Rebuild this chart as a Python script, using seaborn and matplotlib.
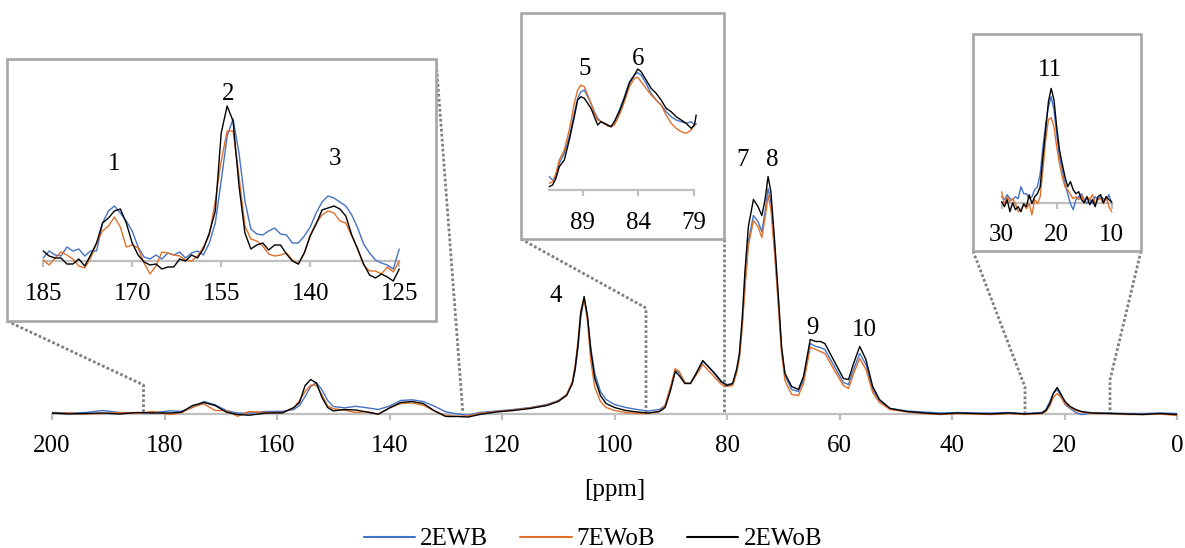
import matplotlib
matplotlib.use('Agg')
import matplotlib.pyplot as plt
import pandas as pd
import seaborn as sns
from matplotlib.lines import Line2D
from matplotlib.patches import Rectangle

# ---------------- data ----------------
SERIES = ['2EWB', '7EWoB', '2EWoB']
COLORS = {'2EWB': '#4472C4', '7EWoB': '#E0702A', '2EWoB': '#000000'}

# main spectrum (intensity in arbitrary units)
main_ppm = [200, 197, 194, 191, 188, 185, 182, 179, 177, 175, 173, 171, 169, 167, 165, 162, 159,
            157, 156, 155, 154, 153, 152, 151, 150, 148, 146, 144, 142, 140, 138, 136, 134, 132,
            130, 128, 126, 124, 121, 118, 115, 112, 110, 108.5, 107.5, 107, 106.5, 106, 105.4,
            104.8, 104.2, 103.5, 102.5, 101.5, 100, 98, 96, 94, 92, 91, 90, 89.2, 88.5, 87.5,
            86.5, 85.5, 84.3, 83, 82, 81, 80, 79, 78.3, 77.8, 77.3, 76.8, 76.2, 75.3, 74.5, 73.8,
            73.2, 72.7, 72.2, 71.5, 70.9, 70.3, 69.7, 68.5, 67.3, 66.4, 65.2, 64.2, 63.4, 62.6,
            61.1, 59.3, 58.4, 57.5, 56.4, 55.3, 54.1, 52.9, 51, 48, 45, 42, 39, 36, 33, 30, 27,
            24, 23.3, 22.6, 22, 21.3, 20.6, 19.9, 19, 18, 17, 15, 12, 9, 6, 3, 0]
main_2ewob = [0.5, -0.5, 0, 0.5, -0.5, 1, 0.5, 0.5, 1.3, 8, 11, 8, 1.3, -1, -1.7, 0.4, 0.7,
              6, 11, 28, 34, 30.5, 16, 6, 2.6, 4, 3.5, 1.5, -0.7, 5.5, 11, 12, 10, 2.6,
              -3, -3, -3.5, -1, 1.5, 3, 5, 8, 12, 18, 30, 45, 68, 100, 117,
              97, 62, 35, 18, 10, 6, 3, 1.5, 0.5, 2, 6, 24, 42, 38, 30,
              30, 40, 53, 45, 39, 32, 28, 30, 44, 60, 95, 143, 187, 214, 207, 198,
              215, 237, 222, 170, 120, 67, 40, 27, 24, 37, 74, 72, 72, 70,
              54, 35, 34, 50, 67, 54, 27, 14, 5, 2, 0.5, -0.5, 0.5, 0, -0.5, 0.5, -0.5,
              0.5, 3, 10, 20, 26, 19, 12, 7, 4, 2, 0.5, 0, -0.5, -1, 0, -1]
main_2ewb = [1, 0.5, 1, 3, 1, 0.7, 1, 2.6, 2.2, 6, 12, 8.7, 3, 0.4, 0.4, 2, 2.2,
             4, 8, 17, 27, 31, 23.5, 13, 7, 5.7, 7.2, 5.7, 4, 7.4, 13, 13.7, 12, 7.2,
             1.7, -0.4, -1.7, 1, 2.5, 4, 6, 9, 13, 19, 30, 43, 65, 96, 115,
             97, 65, 40, 22, 14, 9, 6, 4, 2.5, 4, 8, 26, 43, 41, 31,
             30, 40, 52, 45, 38, 31, 29, 30, 42, 56, 88, 130, 172, 198, 192, 182,
             203, 225, 212, 163, 115, 64, 38, 24, 22, 34, 70, 67, 66, 64,
             49, 31, 29, 44, 60, 49, 24, 13, 5, 2.5, 1.5, 0.5, 1, 0.5, 0.5, 1, 0,
             1, 4, 12, 20, 24, 17, 9, 5, 1, -1, 0.5, 0.5, 0, 0, 0.5, 0]
main_7ewob = [0, 0.5, -0.5, 0, 1, 0.2, 2, -1, 0.7, 6.5, 9.6, 3, 2.8, -2.8, 2, 1, 1,
              5.7, 13, 22, 28.3, 28.3, 18.5, 7.6, 4.8, 3.3, 1, 1.7, -0.7, 5.7, 10, 10.5, 8.3, 2.6,
              -2.2, -2.8, -2.4, 0, 2, 3.5, 5.5, 8.5, 12.5, 19, 32, 48, 72, 103, 115,
              92, 52, 26, 12, 6, 3, 1, 0, 0, 2, 8, 28, 45, 42, 31,
              30, 38, 49, 41, 35, 29, 27, 28, 40, 55, 86, 126, 168, 193, 187, 176,
              197, 218, 205, 157, 110, 60, 33, 19, 18, 30, 66, 64, 62, 60,
              45, 28, 25, 40, 55, 44, 21, 11, 4, 1.5, 0, -1, 0, -0.5, -1, 0, -1,
              0, 2, 8, 16, 20, 16, 10, 6, 3, 1.5, 0, 0, -1, -1, -0.5, -2]

# inset 1 (185-125 ppm)
inset1_ppm = list(range(185, 124, -1))
inset1_2ewob = [10, 5, 3, 3, -3, -3, 2, -5, 6, 18,
                38, 43, 50, 52, 38, 18, 6, -1, -4, -3,
                -8, -6, -6, 2, 0, 6, 3, 12, 28, 50,
                128, 155, 140, 75, 28, 12, 16, 18, 11, 16,
                16, 7, 0, -3, 8, 25, 37, 51, 53, 55,
                52, 45, 26, 12, -3, -14, -17, -13, -16, -20,
                -8]
inset1_2ewb = [3, 10, 6, 5, 14, 10, 12, 5, 10, 10,
               38, 50, 55, 48, 40, 30, 14, 4, 2, 6,
               2, 8, 6, 9, 3, 8, 10, 6, 18, 38,
               80, 125, 142, 108, 60, 32, 27, 26, 30, 33,
               27, 26, 18, 18, 25, 34, 48, 59, 65, 63,
               59, 55, 46, 33, 17, 8, 1, -2, -4, -8,
               12]
inset1_7ewob = [1, -4, 3, 9, 6, 2, -5, -7, 3, 18,
                30, 35, 44, 34, 14, 16, 13, -2, -13, -5,
                9, 8, 6, 5, 1, 0, 5, 14, 26, 60,
                100, 130, 130, 85, 35, 22, 20, 15, 7, 5,
                6, 8, 1, -3, 8, 26, 38, 46, 50, 48,
                40, 38, 25, 12, -4, -10, -10, -13, -6, -11,
                0]

# inset 2 (92-79 ppm)
inset2_ppm = [92.0, 91.7, 91.4, 91.1, 90.65, 90.2, 89.75, 89.45, 89.15, 88.85, 88.55, 88.25,
              87.95, 87.65, 87.35, 87.05, 86.75, 86.45, 86.15, 85.7, 85.25, 84.8, 84.35, 84.05,
              83.75, 83.3, 82.85, 82.4, 81.95, 81.5, 81.05, 80.6, 80.15, 79.7, 79.25, 78.95, 78.8]
inset2_2ewob = [3.3, 5, 11.7, 23.3, 30, 50, 73.3, 90, 93.3, 91.7, 86.7, 81.7,
                73.3, 65, 68.3, 66.7, 65, 63.3, 68.3, 78.3, 91.7, 106.7, 115, 121,
                118.3, 110, 101.7, 96.7, 90, 81.7, 78.3, 73.3, 70, 66.7, 61.7, 65, 75]
inset2_2ewb = [13.3, 10, 13.3, 26.7, 36.7, 53.3, 76.7, 91.7, 98.3, 100, 93.3, 86.7,
               78.3, 71.7, 68.3, 66.7, 65, 63.3, 68.3, 80, 93.3, 108.3, 115, 117.3,
               115, 106.7, 96.7, 90, 85, 78.3, 73.3, 70, 68.3, 66.7, 68.3, 65, 66]
inset2_7ewob = [6.7, 8.3, 16.7, 30, 40, 60, 86.7, 100, 105, 103.3, 95, 86.7,
                76.7, 70, 68.3, 66, 64, 63.3, 65, 75, 88.3, 103.3, 111.7, 112.7,
                108.3, 101.7, 95, 90, 85, 75, 66.7, 61.7, 58.3, 56.7, 60, 65, 66]

# inset 3 (30-10 ppm)
inset3_ppm = [30 - 0.5 * i for i in range(41)]
inset3_2ewob = [1, -4, 3, -9, 0, -7, -4, -9, -1, -4,
                8, -1, 6, 9, 16, 46, 73, 101, 114.3, 103,
                76, 53, 39, 26, 16, 21, 13, 9, 11, 3,
                0, 6, -2, 3, -4, 6, 8, 0, 6, 3, 1]
inset3_2ewb = [6, 3, 8, 4, 3, 6, 4, 16, 9, 9,
               4, 6, 13, 16, 29, 56, 79, 96, 106, 93,
               69, 46, 33, 19, 9, -1, -7, 3, 6, 9,
               3, -1, 4, -1, 6, 3, 6, 4, 3, 8, -1]
inset3_7ewob = [11, -2, 6, 1, 4, -1, -9, -7, -2, -6,
                -1, -12, 3, -1, 6, 33, 63, 83, 85, 76,
                56, 39, 26, 16, 13, 8, 4, 6, 3, 8,
                -1, 6, 3, 8, -1, 3, 4, -1, 6, -4, -9]

main_ticks = [200, 180, 160, 140, 120, 100, 80, 60, 40, 20, 0]
inset1_ticks = [185, 170, 155, 140, 125]
inset2_ticks = [89, 84, 79]
inset3_ticks = [30, 20, 10]

# peak labels: (text, ppm, height)
main_labels = [('4', 110.4, 117), ('7', 77.3, 254), ('8', 71.9, 254), ('9', 64.8, 85), ('10', 55.6, 84)]
inset1_labels = [('1', 173.0, 97), ('2', 153.9, 167), ('3', 135.8, 102)]
inset2_labels = [('5', 88.8, 121), ('6', 84.06, 131)]
inset3_labels = [('11', 21.2, 133)]


def long_df(ppm, a, b, c):
    assert len(ppm) == len(a) == len(b) == len(c), (len(ppm), len(a), len(b), len(c))
    n = len(ppm)
    return pd.DataFrame({'ppm': list(ppm) * 3,
                         'intensity': list(a) + list(b) + list(c),
                         'series': [s for s in SERIES for _ in range(n)]})


main_df = long_df(main_ppm, main_2ewb, main_7ewob, main_2ewob)
inset1_df = long_df(inset1_ppm, inset1_2ewb, inset1_7ewob, inset1_2ewob)
inset2_df = long_df(inset2_ppm, inset2_2ewb, inset2_7ewob, inset2_2ewob)
inset3_df = long_df(inset3_ppm, inset3_2ewb, inset3_7ewob, inset3_2ewob)

# ---------------- styling ----------------
sns.set_theme(style='white')
plt.rcParams['font.family'] = ['Liberation Serif', 'DejaVu Serif']
plt.rcParams['axes.unicode_minus'] = False
plt.rcParams['text.color'] = 'black'
plt.rcParams['axes.labelcolor'] = 'black'
plt.rcParams['xtick.labelcolor'] = 'black'

AXIS_GREY = '#bfbfbf'
FRAME_GREY = '#a6a6a6'
DOT_GREY = '#808080'
FS = 18

W, H = 1185, 548
fig = plt.figure(figsize=(W / 100, H / 100), dpi=100)
fig.patch.set_facecolor('white')


def px_axes(x0, y0, x1, y1, z):
    return fig.add_axes([x0 / W, 1 - y1 / H, (x1 - x0) / W, (y1 - y0) / H], zorder=z)


def draw(ax, df):
    sns.lineplot(data=df, x='ppm', y='intensity', hue='series', hue_order=SERIES,
                 palette=COLORS, estimator=None, linewidth=1.0, ax=ax, legend=False,
                 zorder=3)


def style_axis(ax, ticks, bounds=None):
    for s in ['top', 'left', 'right']:
        ax.spines[s].set_visible(False)
    sp = ax.spines['bottom']
    sp.set_visible(True)
    sp.set_position(('data', 0))
    sp.set_color(AXIS_GREY)
    sp.set_linewidth(1.6)
    sp.set_zorder(2)
    if bounds is not None:
        sp.set_bounds(*bounds)
    ax.set_xticks(ticks)
    ax.set_xticklabels([str(t) for t in ticks])
    ax.set_yticks([])
    ax.tick_params(axis='x', bottom=True, direction='out', length=4.5, width=1.6,
                   color=AXIS_GREY, pad=11, labelsize=FS, labelcolor='black')
    ax.set_ylabel('')
    ax.grid(False)
    ax.set_facecolor('white')


# main axes
main = px_axes(52, 143.5, 1177, 425.5, 1)
draw(main, main_df)
main.set_xlim(200, 0)
main.set_ylim(-12, 270)
style_axis(main, main_ticks)
main.patch.set_alpha(0)
main.set_xlabel('[ppm]', fontsize=FS, labelpad=16, color='black')
for t, x, y in main_labels:
    main.text(x, y, t, ha='center', va='center', fontsize=FS, color='black')


def make_inset(box, xlim, base_y, ticks, bounds, df, labels):
    x0, y0, x1, y1 = box
    ax = px_axes(x0, y0, x1, y1, 5)
    draw(ax, df)
    ax.set_xlim(*xlim)
    ax.set_ylim(-(y1 - base_y), base_y - y0)
    style_axis(ax, ticks, bounds)
    ax.set_xlabel('')
    ax.add_patch(Rectangle((0, 0), 1, 1, transform=ax.transAxes, fill=False,
                           edgecolor=FRAME_GREY, linewidth=1.9, clip_on=False, zorder=6))
    for t, x, y in labels:
        ax.text(x, y, t, ha='center', va='center', fontsize=FS, color='black')
    return ax


make_inset((7, 59, 436, 321), (191.1, 118.8), 261, inset1_ticks, (185, 125), inset1_df, inset1_labels)
make_inset((521, 12.7, 724, 239), (94.54, 76.3), 190, inset2_ticks, (92, 79), inset2_df, inset2_labels)
make_inset((972.7, 34.3, 1141, 250.7), (35.27, 4.67), 202.7, inset3_ticks, (30, 10), inset3_df, inset3_labels)

# dotted connectors between insets and the main spectrum
connectors = [
    [(7, 321), (143.5, 385), (143.5, 414)],
    [(436, 59), (463, 415)],
    [(521, 239), (646, 308), (646, 414)],
    [(724, 239), (724, 414)],
    [(973, 251), (1025, 387), (1025, 414)],
    [(1141, 251), (1110, 380), (1110, 414)],
]
for pts in connectors:
    xs = [p[0] / W for p in pts]
    ys = [1 - p[1] / H for p in pts]
    fig.add_artist(Line2D(xs, ys, transform=fig.transFigure, color=DOT_GREY,
                          linewidth=2.0, linestyle=(0, (1, 0.8)), zorder=0.5))

# legend
handles = [Line2D([0], [0], color=COLORS[s], linewidth=1.5) for s in SERIES]
leg = fig.legend(handles, SERIES, loc='center', bbox_to_anchor=(593 / W, 1 - 539 / H), ncol=3,
                 frameon=False, fontsize=FS, handlelength=2.05, handletextpad=0.2,
                 columnspacing=1.28, borderpad=0, borderaxespad=0)
for txt in leg.get_texts():
    txt.set_color('black')

fig.savefig('out.png', dpi=100, facecolor='white')
